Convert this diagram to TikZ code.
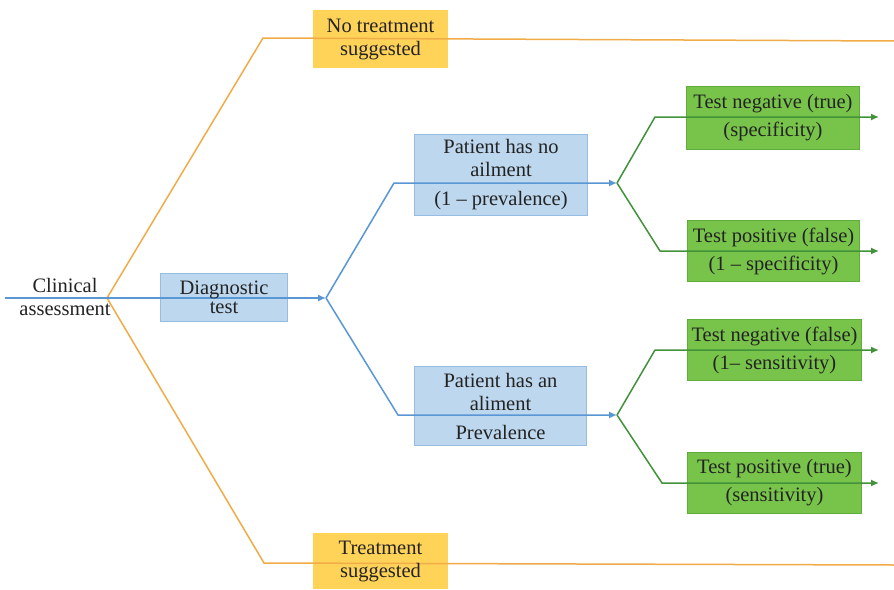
\documentclass[tikz,border=0pt]{standalone}
\usepackage{fontspec}
\setmainfont{LiberationSerif}[Extension=.ttf, UprightFont=*-Regular, Ligatures=TeX]
\usetikzlibrary{arrows.meta}

\definecolor{orangeline}{RGB}{240,172,72}
\definecolor{yellowfill}{RGB}{255,210,88}
\definecolor{blueline}{RGB}{88,150,212}
\definecolor{bluefill}{RGB}{189,215,238}
\definecolor{blueedge}{RGB}{150,188,225}
\definecolor{greenfill}{RGB}{120,196,74}
\definecolor{greenedge}{RGB}{98,172,60}
\definecolor{greenline}{RGB}{66,146,58}
\definecolor{textcol}{RGB}{35,35,35}

\pgfdeclarelayer{bg}
\pgfdeclarelayer{mid}
\pgfsetlayers{bg,mid,main}

\tikzset{
  lbl/.style={align=center, inner sep=0pt, text=textcol,
    font=\rmfamily\fontsize{20.5}{23}\selectfont},
  treeline/.style={line width=1.5pt, line join=miter},
  tip/.style={-{Latex[length=8pt,width=7pt]}},
}

\begin{document}
\begin{tikzpicture}[x=1pt,y=-1pt]
\useasboundingbox (0,0) rectangle (894,589);

% labels of the decision tree
\node[lbl, minimum width=135, minimum height=58] (nt) at (380.5,39) {No treatment\\suggested};
\node[lbl, minimum width=135, minimum height=56] (tr) at (380.5,561) {Treatment\\suggested};
\node[lbl] (ca) at (65,297) {Clinical\\assessment};
\node[lbl, minimum width=126, minimum height=47] (dt) at (224,297.5) {Diagnostic\\[-4pt]test};
\node[lbl, minimum width=172, minimum height=80] (pn) at (501,175) {Patient has no\\ailment\\[6pt](1 – prevalence)};
\node[lbl, minimum width=171, minimum height=78] (pa) at (500.5,406) {Patient has an\\aliment\\[6pt]Prevalence};
\node[lbl, minimum width=172, minimum height=62] (g1) at (773,118) {Test negative (true)\\[5pt](specificity)};
\node[lbl, minimum width=171, minimum height=60] (g2) at (773.5,251) {Test positive (false)\\[5pt](1 – specificity)};
\node[lbl, minimum width=173, minimum height=60] (g3) at (774.5,350) {Test negative (false)\\[5pt](1– sensitivity)};
\node[lbl, minimum width=173, minimum height=60] (g4) at (774.5,483) {Test positive (true)\\[5pt](sensitivity)};

% page background and box fills behind the branches
\begin{pgfonlayer}{bg}
  \fill[white] (0,0) rectangle (894,589);
  \foreach \b in {nt,tr}
    \fill[yellowfill] (\b.south west) rectangle (\b.north east);
  \foreach \b in {dt,pn,pa}
    \draw[fill=bluefill, draw=blueedge, line width=0.8pt] (\b.south west) rectangle (\b.north east);
  \foreach \b in {g1,g2,g3,g4}
    \draw[fill=greenfill, draw=greenedge, line width=0.8pt] (\b.south west) rectangle (\b.north east);
\end{pgfonlayer}

% branch points
\coordinate (start) at (5,298);
\coordinate (root) at (107,298);
\coordinate (ntC) at (263,38);
\coordinate (ntE) at (894,41);
\coordinate (trC) at (264,563);
\coordinate (trE) at (894,565);
\coordinate (fork1) at (326,298);
\coordinate (pnC) at (394,183);
\coordinate (paC) at (398,415);
\coordinate (fork2) at (617,183);
\coordinate (fork3) at (617,415);
\coordinate (g1C) at (655,117);
\coordinate (g1E) at (879,117);
\coordinate (g2C) at (660,251);
\coordinate (g2E) at (879,251);
\coordinate (g3C) at (655,350);
\coordinate (g3E) at (879,350);
\coordinate (g4C) at (662,483);
\coordinate (g4E) at (879,483);

\begin{pgfonlayer}{mid}
  % treatment decision without testing
  \draw[treeline, orangeline] (ntE) -- (ntC) -- (root) -- (trC) -- (trE);
  % diagnostic testing path
  \draw[treeline, blueline, tip] (start) -- (fork1);
  \draw[treeline, blueline, tip] (fork1) -- (pnC) -- (fork2);
  \draw[treeline, blueline, tip] (fork1) -- (paC) -- (fork3);
  % test outcomes
  \draw[treeline, greenline, tip] (fork2) -- (g1C) -- (g1E);
  \draw[treeline, greenline, tip] (fork2) -- (g2C) -- (g2E);
  \draw[treeline, greenline, tip] (fork3) -- (g3C) -- (g3E);
  \draw[treeline, greenline, tip] (fork3) -- (g4C) -- (g4E);
\end{pgfonlayer}
\end{tikzpicture}
\end{document}
